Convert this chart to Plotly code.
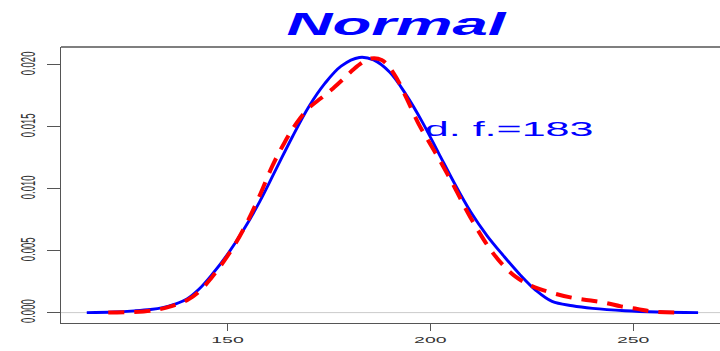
import plotly.graph_objects as go

# ---- data ----
blue_x = [115.3, 122, 127, 131, 134, 137, 140, 143, 146, 150, 154, 158, 162, 166, 170, 174, 178,
          182.5, 186, 190, 194, 198, 202, 206, 210, 214, 218, 222, 226, 230, 235, 240, 248, 256, 266]
blue_y = [0.0, 0.00005, 0.00014, 0.00025, 0.0004, 0.00068, 0.0011, 0.0019, 0.0030, 0.0047,
          0.0067, 0.0090, 0.0116, 0.0142, 0.0166, 0.0185, 0.0199, 0.0206, 0.0204, 0.0194, 0.0176,
          0.0154, 0.0129, 0.0104, 0.0081, 0.0062, 0.0046, 0.0031, 0.0018, 0.0009, 0.00055,
          0.00034, 0.00015, 0.00005, 0.0]

red_x = [120.6, 127, 132, 136, 140, 143, 146, 149, 152, 155, 158, 161, 164, 167, 170, 173, 176,
         179, 182, 185, 188, 191, 194, 197, 200, 203, 206, 209, 212, 215, 218, 221, 224, 227,
         231, 235, 239, 243, 247, 251, 255, 261.6]
red_y = [0.0, 0.00005, 0.0002, 0.0005, 0.0010, 0.0017, 0.0028, 0.0041, 0.0056, 0.0074, 0.0095,
         0.0118, 0.0137, 0.0153, 0.0165, 0.0173, 0.0181, 0.0190, 0.0199, 0.0205, 0.0204, 0.0193,
         0.0174, 0.0153, 0.0136, 0.0119, 0.0101, 0.0082, 0.0065, 0.0050, 0.0038, 0.0029, 0.0023,
         0.0019, 0.0015, 0.0012, 0.0010, 0.0008, 0.0005, 0.0003, 0.00008, 0.0]

x_ticks = [150, 200, 250]
y_ticks = [0.000, 0.005, 0.010, 0.015, 0.020]
y_tick_labels = ["0.000", "0.005", "0.010", "0.015", "0.020"]

title_text = "Normal"
note_text = "d. f.=183"
note_x, note_y = 219.4, 0.01488

FONT = "Liberation Sans, Arial, sans-serif"
AX = "#555555"

fig = go.Figure()
fig.add_trace(go.Scatter(x=blue_x, y=blue_y, mode="lines",
                         line=dict(color="#0000ff", width=2.9, shape="spline", smoothing=1.0),
                         hoverinfo="skip", showlegend=False))
fig.add_trace(go.Scatter(x=red_x, y=red_y, mode="lines",
                         line=dict(color="#ff0000", width=4, dash="16px,10px", shape="spline",
                                   smoothing=1.0),
                         hoverinfo="skip", showlegend=False))

fig.add_shape(type="line", xref="paper", yref="y", x0=0, x1=1, y0=0, y1=0,
              line=dict(color="#cccccc", width=1), layer="below")
fig.add_shape(type="line", xref="paper", yref="paper", x0=0, x1=1, y0=1, y1=1,
              line=dict(color=AX, width=1.3))

fig.add_annotation(x=note_x, y=note_y, text=note_text, showarrow=False,
                   xanchor="center", yanchor="middle",
                   font=dict(family=FONT, size=21, color="#0000ff"))

fig.update_layout(
    width=720, height=351,
    margin=dict(l=61, r=0, t=47, b=28, pad=0),
    paper_bgcolor="white", plot_bgcolor="white",
    title=dict(text=title_text, x=396.7 / 720, xref="container", xanchor="center",
               y=1 - 24 / 351, yref="container", yanchor="middle",
               font=dict(family=FONT, size=31, color="#0000ff", weight="bold", style="italic")),
    xaxis=dict(range=[108.95, 271.4], tickvals=x_ticks, ticks="outside", ticklen=7,
               tickcolor=AX, tickwidth=1.2, showline=True, linecolor=AX, linewidth=1.3,
               showgrid=False, zeroline=False,
               tickfont=dict(family=FONT, size=9.5, color="#333333")),
    yaxis=dict(range=[-0.00084, 0.021443], tickvals=y_ticks, ticktext=y_tick_labels,
               tickangle=-90, ticks="outside", ticklen=13, tickcolor=AX, tickwidth=1.2,
               showline=True, linecolor=AX, linewidth=1.3, showgrid=False, zeroline=False,
               ticklabelstandoff=12,
               tickfont=dict(family=FONT, size=9.5, color="#333333")),
)

post = """
document.body.style.margin = '0';
var gd = document.getElementById('{plot_id}');
function stretch(el, s) {
  var bb = el.getBBox();
  var cx = bb.x + bb.width / 2, cy = bb.y + bb.height / 2;
  var px = cx, py = cy;
  var m = el.transform.baseVal.consolidate();
  if (m) { var mm = m.matrix; px = mm.a * cx + mm.c * cy + mm.e; py = mm.b * cx + mm.d * cy + mm.f; }
  var old = el.getAttribute('transform') || '';
  el.setAttribute('transform', 'translate(' + px + ',' + py + ') scale(' + s + ',1) translate(' + (-px) + ',' + (-py) + ') ' + old);
}
gd.querySelectorAll('.xtick text, .ytick text, text.gtitle, text.annotation-text').forEach(function (el) { stretch(el, 2.05); });
"""

fig.write_html("out.html", post_script=post, config={"displayModeBar": False})
